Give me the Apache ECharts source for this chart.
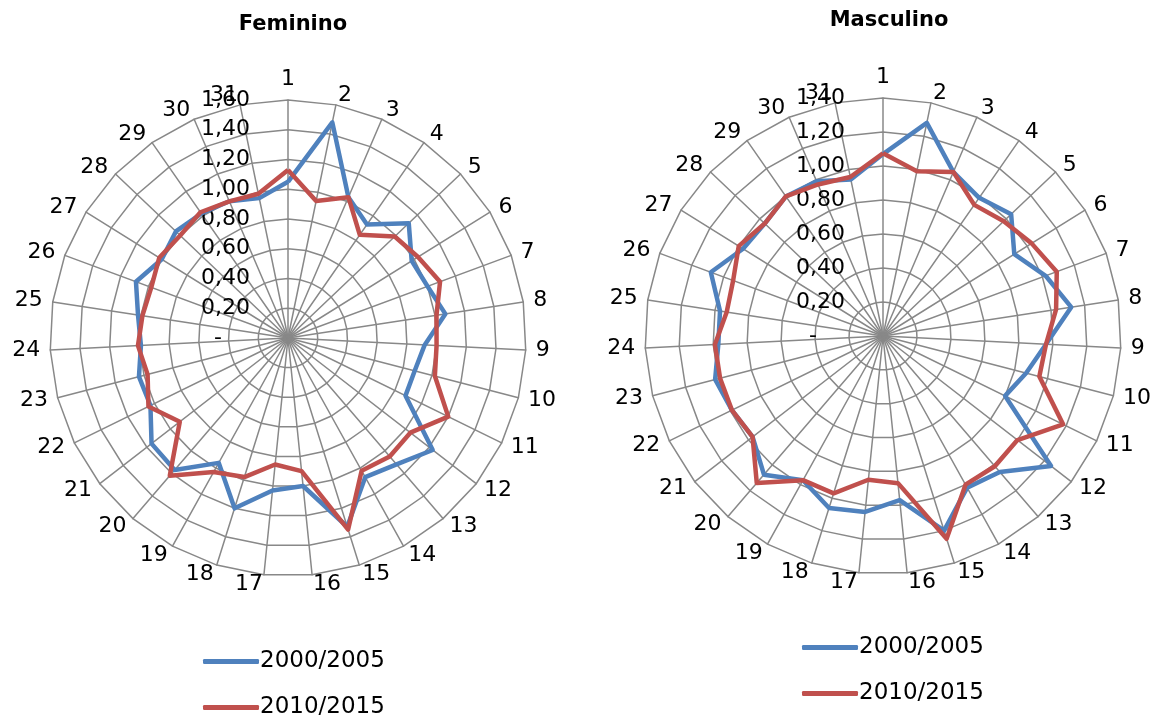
<!DOCTYPE html>
<html>
<head>
<meta charset="utf-8">
<script src="https://cdn.jsdelivr.net/npm/echarts@6/dist/echarts.min.js"></script>
<style>
html,body{margin:0;padding:0;background:#fff;}
#chart{width:1157px;height:722px;}
</style>
</head>
<body>
<div id="chart"></div>
<script>
// ---- data ----
const categories = ['1','2','3','4','5','6','7','8','9','10','11','12','13','14','15','16','17','18','19','20','21','22','23','24','25','26','27','28','29','30','31'];
const seriesNames = ['2000/2005', '2010/2015'];
const titles = ['Feminino', 'Masculino'];
const femMax = 1.6;
const mascMax = 1.4;
const femBlue = [1.05,1.48,1.03,0.93,1.12,0.98,1.00,1.07,0.92,0.88,0.88,1.23,1.12,1.07,1.33,1.00,1.03,1.20,0.96,1.17,1.16,1.03,1.035,0.99,1.02,1.09,1.00,1.04,1.02,1.00,0.96];
const femRed  = [1.13,0.94,1.03,0.845,0.99,1.03,1.09,1.01,1.00,1.02,1.20,1.04,1.05,1.02,1.35,0.90,0.855,0.98,1.03,1.22,0.92,1.045,0.975,1.01,0.99,0.98,1.02,1.00,1.03,1.00,0.99];
const mascBlue = [1.07,1.28,1.05,0.99,1.04,0.91,1.02,1.12,0.96,0.87,0.80,1.25,1.055,1.02,1.20,0.97,1.04,1.06,0.97,1.075,0.97,0.99,1.02,0.97,0.97,1.08,0.97,0.96,1.00,0.99,0.94];
const mascRed  = [1.075,0.99,1.05,0.94,0.98,1.03,1.09,1.03,0.96,0.95,1.18,1.00,1.01,1.00,1.25,0.87,0.85,0.97,0.97,1.14,0.97,0.99,0.99,0.99,0.93,0.94,1.00,0.96,1.00,0.97,0.955];
const colors = ['#4F81BD', '#C0504D'];

// ECharts radar runs counter-clockwise; reorder so categories go clockwise from the top
const n = categories.length;
const order = [0];
for (let i = n - 1; i >= 1; i--) order.push(i);
const reorder = arr => order.map(i => arr[i]);

const FONT = 'DejaVu Sans, Liberation Sans, Arial, sans-serif';
const fmt = v => Math.abs(v) < 1e-9 ? '-    ' : v.toFixed(2).replace('.', ',');

function makeRadar(center, max, splitNumber) {
  return {
    center: center,
    radius: 238,
    startAngle: 90,
    shape: 'polygon',
    splitNumber: splitNumber,
    axisName: { color: '#000', fontSize: 22, fontFamily: FONT },
    nameGap: 10,
    splitArea: { show: false },
    splitLine: { lineStyle: { color: '#888888', width: 1.5 } },
    axisLine: { lineStyle: { color: '#888888', width: 1.5 } },
    axisTick: { show: false },
    axisLabel: { show: false },
    indicator: order.map((ci, k) => {
      const ind = { name: categories[ci], min: 0, max: max };
      if (k === 0) {
        ind.axisLabel = { show: true, color: '#000', fontSize: 22, fontFamily: FONT, margin: 38, formatter: fmt };
      }
      return ind;
    })
  };
}

function makeSeries(radarIndex, blue, red) {
  return {
    type: 'radar',
    radarIndex: radarIndex,
    symbol: 'none',
    data: [
      { name: seriesNames[0], value: reorder(blue), lineStyle: { color: colors[0], width: 4.5 }, itemStyle: { color: colors[0] } },
      { name: seriesNames[1], value: reorder(red), lineStyle: { color: colors[1], width: 4.5 }, itemStyle: { color: colors[1] } }
    ]
  };
}

const chart = echarts.init(document.getElementById('chart'), null, { renderer: 'canvas' });
chart.setOption({
  backgroundColor: '#fff',
  animation: false,
  title: [
    { text: titles[0], left: 288, top: 9, textAlign: 'center', textStyle: { fontSize: 21, fontWeight: 'bold', color: '#000', fontFamily: FONT } },
    { text: titles[1], left: 884, top: 5, textAlign: 'center', textStyle: { fontSize: 21, fontWeight: 'bold', color: '#000', fontFamily: FONT } }
  ],
  legend: [
    { orient: 'vertical', left: 203, top: 650, padding: 0, itemWidth: 56, itemHeight: 5, itemGap: 23, icon: 'roundRect',
      data: seriesNames, textStyle: { fontSize: 23, color: '#000', fontFamily: FONT, padding: [0,0,0,-4] } },
    { orient: 'vertical', left: 802, top: 636, padding: 0, itemWidth: 56, itemHeight: 5, itemGap: 23, icon: 'roundRect',
      data: seriesNames, textStyle: { fontSize: 23, color: '#000', fontFamily: FONT, padding: [0,0,0,-4] } }
  ],
  radar: [ makeRadar([288, 338], femMax, 8), makeRadar([883, 336], mascMax, 7) ],
  series: [ makeSeries(0, femBlue, femRed), makeSeries(1, mascBlue, mascRed) ]
});
</script>
</body>
</html>
